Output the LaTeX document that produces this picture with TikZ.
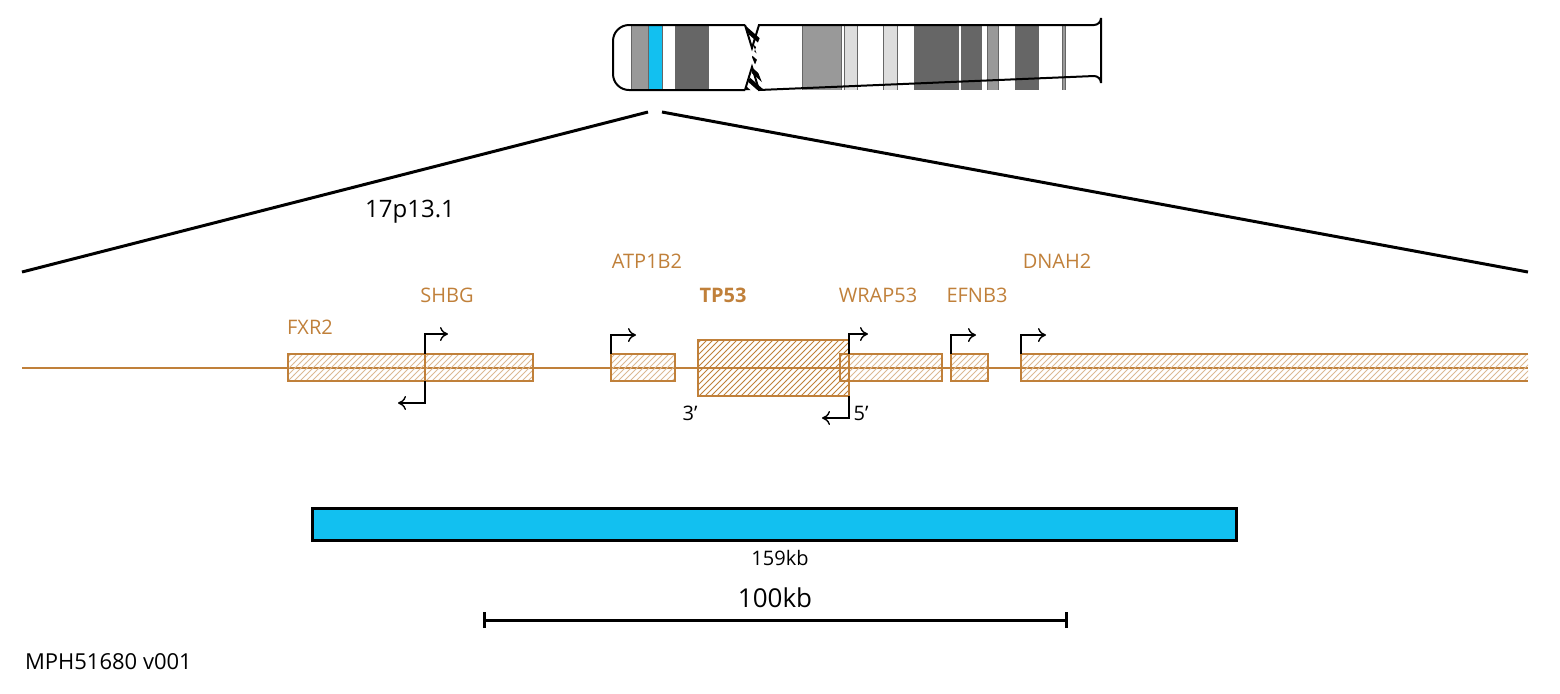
\documentclass[tikz,border=0pt]{standalone}
\usepackage{fontspec}
\setmainfont{Open Sans}
\usetikzlibrary{patterns,arrows.meta}
\definecolor{gene}{HTML}{C0803A}
\definecolor{band}{HTML}{999999}
\definecolor{darkband}{HTML}{666666}
\definecolor{lightband}{HTML}{DDDDDD}
\definecolor{hilite}{HTML}{12C0F0}

\begin{document}
\begin{tikzpicture}[
  x=0.5pt, y=-0.5pt,
  gene box/.style={
    draw=gene,
    line width=1.2pt,
    pattern=north east lines,
    pattern color=gene!55
  },
  main box/.style={
    gene box,
    pattern color=gene
  },
  gene label/.style={text=gene, font=\fontsize{10}{12}\selectfont},
  tss/.style={-{To[length=4pt,width=7pt]}, line width=0.7pt},
  small label/.style={font=\fontsize{10}{12}\selectfont}
]
\useasboundingbox (0,0) rectangle (1560,693);
% chromosome bands
\foreach \a/\b/\c in {631/648/band,648/662/hilite,675/708/darkband,
  802/841/band,844/857/lightband,883/897/lightband,914/958/darkband,
  961/981/darkband,987/998/band,1015/1038/darkband,1062/1065/band}
  \fill[\c] (\a,25) rectangle (\b,90);
\foreach \a in {631,648,662,675,708,802,841,844,857,883,897,914,958,961,981,987,998,1015,1038,1062,1065}
  \draw[line width=0.4pt, black!60] (\a,25) -- (\a,90);
\begin{scope}
  \clip (745,25) -- (765,25) -- (752,57) -- (765,90) -- (745,90) -- (758,57) -- cycle;
  \foreach \k in {0,...,6} \draw[line width=2.2pt] (738,{22+\k*12}) -- (772,{52+\k*12});
\end{scope}
\draw[line width=1pt] (745,25) -- (752,48) -- (759,25) -- (1094,25) arc (90:0:7) -- (1101,83) arc (0:-90:7) -- (759,90) -- (752,67) -- (745,90);
\draw[line width=1pt, rounded corners=8pt] (745,25) -- (613,25) -- (613,90) -- (745,90);
% zoom lines
\coordinate (zl) at (648,112);
\coordinate (zr) at (662,112);
\draw[line width=1.5pt] (zl) -- (22,272);
\draw[line width=1.5pt] (zr) -- (1528,272);
\node[font=\fontsize{12}{14}\selectfont] (band) at (410,212) {17p13.1};
% locus
\draw[gene, line width=1.2pt] (22,368) -- (1528,368);
\draw[gene box] (288,354) rectangle (425,381);
\draw[gene box] (425,354) rectangle (533,381);
\draw[gene box] (611,354) rectangle (675,381);
\draw[gene box] (840,354) rectangle (942,381);
\draw[gene box] (951,354) rectangle (988,381);
\fill[pattern=north east lines, pattern color=gene!55] (1021,354) rectangle (1528,381);
\draw[gene, line width=1.2pt] (1528,354) -- (1021,354) -- (1021,381) -- (1528,381);
\draw[main box] (698,340) rectangle (849,396);
% transcription starts
\draw[tss] (425,354) -- (425,334) -- (448,334);
\draw[tss] (425,381) -- (425,403) -- (398,403);
\draw[tss] (611,354) -- (611,335) -- (636,335);
\draw[tss] (849,354) -- (849,334) -- (868,334);
\draw[tss] (849,396) -- (849,418) -- (822,418);
\draw[tss] (951,354) -- (951,335) -- (976,335);
\draw[tss] (1021,354) -- (1021,335) -- (1046,335);
% gene names
\node[gene label] (fxr2) at (310,327) {FXR2};
\node[gene label] (shbg) at (447,295) {SHBG};
\node[gene label] (atp1b2) at (647,261) {ATP1B2};
\node[gene label, font=\fontsize{10}{12}\selectfont\bfseries] (tp53) at (723,295) {TP53};
\node[gene label] (wrap53) at (878,295) {WRAP53};
\node[gene label] (efnb3) at (977,295) {EFNB3};
\node[gene label] (dnah2) at (1057,261) {DNAH2};
\node[small label] (three) at (690,413) {3'};
\node[small label] (five) at (861,413) {5'};
% deletion and scale
\draw[fill=hilite, line width=1.5pt] (312,508) rectangle (1236,540);
\node[small label] (size) at (780,558) {159kb};
\coordinate (sl) at (484,620);
\coordinate (sr) at (1066,620);
\draw[line width=1.5pt] (sl) -- (sr);
\draw[line width=1.5pt] ([yshift=-4pt]sl) -- ([yshift=4pt]sl);
\draw[line width=1.5pt] ([yshift=-4pt]sr) -- ([yshift=4pt]sr);
\node[font=\fontsize{13}{15}\selectfont] (scale) at (775,598) {100kb};
\node[anchor=west, font=\fontsize{11}{13}\selectfont] (id) at (18,662) {MPH51680 v001};
\end{tikzpicture}
\end{document}
